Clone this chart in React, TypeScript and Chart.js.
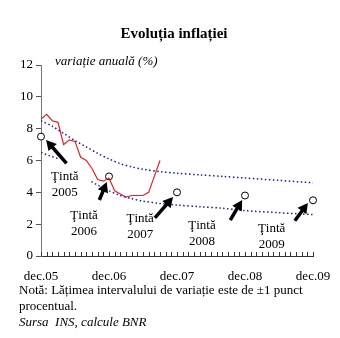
import React, { useEffect, useRef } from "react";
import { Chart, registerables } from "chart.js";

Chart.register(...registerables);

const FONT = '"Liberation Serif", "Times New Roman", serif';

// Months counted from dec.05 (0) to dec.09 (48)
const xTickLabels = ["dec.05", "dec.06", "dec.07", "dec.08", "dec.09"];

// Annual CPI inflation (%), dec.05 .. sep.07
const inflationMonths = [0, 1, 2, 3, 4, 5, 6, 7, 8, 9, 10, 11, 12, 13, 14, 15, 16, 17, 18, 19, 20, 21];
const inflationValues = [8.6, 8.9, 8.5, 8.4, 7.0, 7.3, 7.2, 6.2, 6.0, 5.5, 4.8, 4.7, 4.9, 4.1, 3.9, 3.7, 3.8, 3.8, 3.8, 4.0, 5.0, 6.0];

// Variation band
const upperMonths = [0, 2, 4, 6, 8, 10, 12, 14, 16, 18, 21, 24, 28, 32, 36, 42, 48];
const upperValues = [8.5, 8.15, 7.7, 7.25, 6.85, 6.45, 6.1, 5.8, 5.6, 5.45, 5.3, 5.2, 5.1, 5.0, 4.9, 4.75, 4.6];
const lowerMonths = [0, 1.5, 3.2, 6, 8.9, 10, 12, 14, 16, 18, 21, 24, 28, 32, 36, 42, 48];
const lowerValues = [6.5, 6.3, 6.1, null, 4.67, 4.45, 4.1, 3.8, 3.6, 3.45, 3.3, 3.2, 3.1, 3.0, 2.85, 2.72, 2.6];

// Targets
const targetMonths = [0, 12, 24, 36, 48];
const targetValues = [7.5, 5, 4, 3.8, 3.5];
const targetYears = ["2005", "2006", "2007", "2008", "2009"];
const targetWord = "Ţintă";

// Annotation placement (data units)
const labelX = [4.2, 7.6, 17.5, 28.4, 40.7];
const labelY = [4.49, 2.05, 1.82, 1.42, 1.19];
const arrowFromX = [4.5, 10.3, 20.1, 33.4, 44.8];
const arrowFromY = [5.82, 3.52, 2.39, 2.26, 2.22];
const arrowToX = [0.9, 11.6, 23.3, 35.5, 47.1];
const arrowToY = [7.29, 4.65, 3.7, 3.52, 3.33];

const pts = (xs: number[], ys: (number | null)[]) => xs.map((x, i) => ({ x, y: ys[i] }));

const annotationPlugin = {
  id: "annotations",
  afterDatasetsDraw(chart: any) {
    const { ctx, scales, chartArea } = chart;
    const xs = scales.x;
    const ys = scales.y;
    ctx.save();
    // inside tick marks on x axis
    ctx.strokeStyle = "#333";
    ctx.lineWidth = 1;
    xs.ticks.forEach((t: any) => {
      const px = Math.round(xs.getPixelForValue(t.value)) + 0.5;
      ctx.beginPath();
      ctx.moveTo(px, chartArea.bottom);
      ctx.lineTo(px, chartArea.bottom - 4);
      ctx.stroke();
    });
    // arrows
    ctx.fillStyle = "#000";
    ctx.strokeStyle = "#000";
    for (let i = 0; i < targetYears.length; i++) {
      const x1 = xs.getPixelForValue(arrowFromX[i]);
      const y1 = ys.getPixelForValue(arrowFromY[i]);
      const x2 = xs.getPixelForValue(arrowToX[i]);
      const y2 = ys.getPixelForValue(arrowToY[i]);
      const dx = x2 - x1;
      const dy = y2 - y1;
      const len = Math.hypot(dx, dy);
      const ux = dx / len;
      const uy = dy / len;
      const headLen = 10;
      const headW = 5.5;
      const bx = x2 - ux * headLen;
      const by = y2 - uy * headLen;
      ctx.lineWidth = 3.5;
      ctx.beginPath();
      ctx.moveTo(x1, y1);
      ctx.lineTo(bx + ux, by + uy);
      ctx.stroke();
      ctx.beginPath();
      ctx.moveTo(x2, y2);
      ctx.lineTo(bx - uy * headW, by + ux * headW);
      ctx.lineTo(bx + uy * headW, by - ux * headW);
      ctx.closePath();
      ctx.fill();
      // labels
      const lx = xs.getPixelForValue(labelX[i]);
      const ly = ys.getPixelForValue(labelY[i]);
      ctx.font = `13px ${FONT}`;
      ctx.textAlign = "center";
      ctx.textBaseline = "middle";
      ctx.fillText(targetWord, lx, ly - 8);
      ctx.fillText(targetYears[i], lx, ly + 8);
    }
    ctx.restore();
  },
};

export default function App() {
  const ref = useRef<HTMLCanvasElement>(null);
  useEffect(() => {
    const canvas = ref.current;
    if (!canvas) return;
    const chart = new Chart(canvas, {
      type: "line",
      data: {
        datasets: [
          {
            label: "upper",
            data: pts(upperMonths, upperValues),
            borderColor: "#1a1aa8",
            borderWidth: 1.5,
            borderDash: [1.5, 2.5],
            pointRadius: 0,
            fill: false,
            tension: 0.3,
          },
          {
            label: "lower",
            data: pts(lowerMonths, lowerValues),
            borderColor: "#1a1aa8",
            borderWidth: 1.5,
            borderDash: [1.5, 2.5],
            pointRadius: 0,
            fill: false,
            spanGaps: false,
            tension: 0.3,
          },
          {
            label: "inflation",
            data: pts(inflationMonths, inflationValues),
            borderColor: "#e8202a",
            borderWidth: 1.2,
            pointRadius: 0,
            fill: false,
            tension: 0,
          },
          {
            label: "targets",
            data: pts(targetMonths, targetValues),
            showLine: false,
            pointRadius: 3.5,
            pointBackgroundColor: "#fff",
            pointBorderColor: "#000",
            pointBorderWidth: 1,
            clip: false,
          } as any,
        ],
      },
      options: {
        animation: false,
        responsive: false,
        events: [],
        layout: { padding: { left: 0, top: 65, right: 27, bottom: 46 } },
        plugins: { legend: { display: false }, tooltip: { enabled: false }, title: { display: false } },
        scales: {
          x: {
            type: "linear",
            min: 0,
            max: 48,
            afterFit: (s: any) => {
              s.height = 36;
              s.paddingLeft = 0;
              s.paddingRight = 0;
            },
            border: { display: true, color: "#333", width: 1 },
            grid: { display: true, drawOnChartArea: false, drawTicks: false },
            ticks: {
              stepSize: 1,
              autoSkip: false,
              maxRotation: 0,
              padding: 13,
              color: "#000",
              font: { family: FONT, size: 13 },
              callback: (v: any) => {
                const n = Number(v);
                return n % 12 === 0 ? xTickLabels[n / 12] : "";
              },
            },
          },
          y: {
            min: 0,
            max: 12,
            afterFit: (s: any) => {
              s.width = 41;
            },
            border: { display: true, color: "#777", width: 1 },
            grid: { display: true, drawOnChartArea: false, drawTicks: true, tickLength: 5, color: "#555" },
            ticks: {
              stepSize: 2,
              padding: 3,
              color: "#000",
              font: { family: FONT, size: 13 },
            },
          },
        },
      },
      plugins: [annotationPlugin],
    });
    return () => chart.destroy();
  }, []);

  const text: React.CSSProperties = { position: "absolute", fontFamily: FONT, fontSize: 13, lineHeight: "16px", color: "#000", whiteSpace: "pre" };
  return (
    <div style={{ position: "fixed", left: 0, top: 0, width: 340, height: 338, background: "#fff", overflow: "hidden" }}>
      <canvas ref={ref} width={340} height={338} style={{ position: "absolute", left: 0, top: 0, width: 340, height: 338 }} />
      <div style={{ ...text, left: 0, width: 348, top: 24, textAlign: "center", fontWeight: "bold", fontSize: 15, lineHeight: "18px" }}>Evoluția inflației</div>
      <div style={{ ...text, left: 55, top: 53, fontStyle: "italic" }}>variație anuală (%)</div>
      <div style={{ ...text, left: 19, top: 282 }}>Notă: Lățimea intervalului de variație este de ±1 punct</div>
      <div style={{ ...text, left: 19, top: 298 }}>procentual.</div>
      <div style={{ ...text, left: 19, top: 314, fontStyle: "italic" }}>{"Sursa  INS, calcule BNR"}</div>
    </div>
  );
}
